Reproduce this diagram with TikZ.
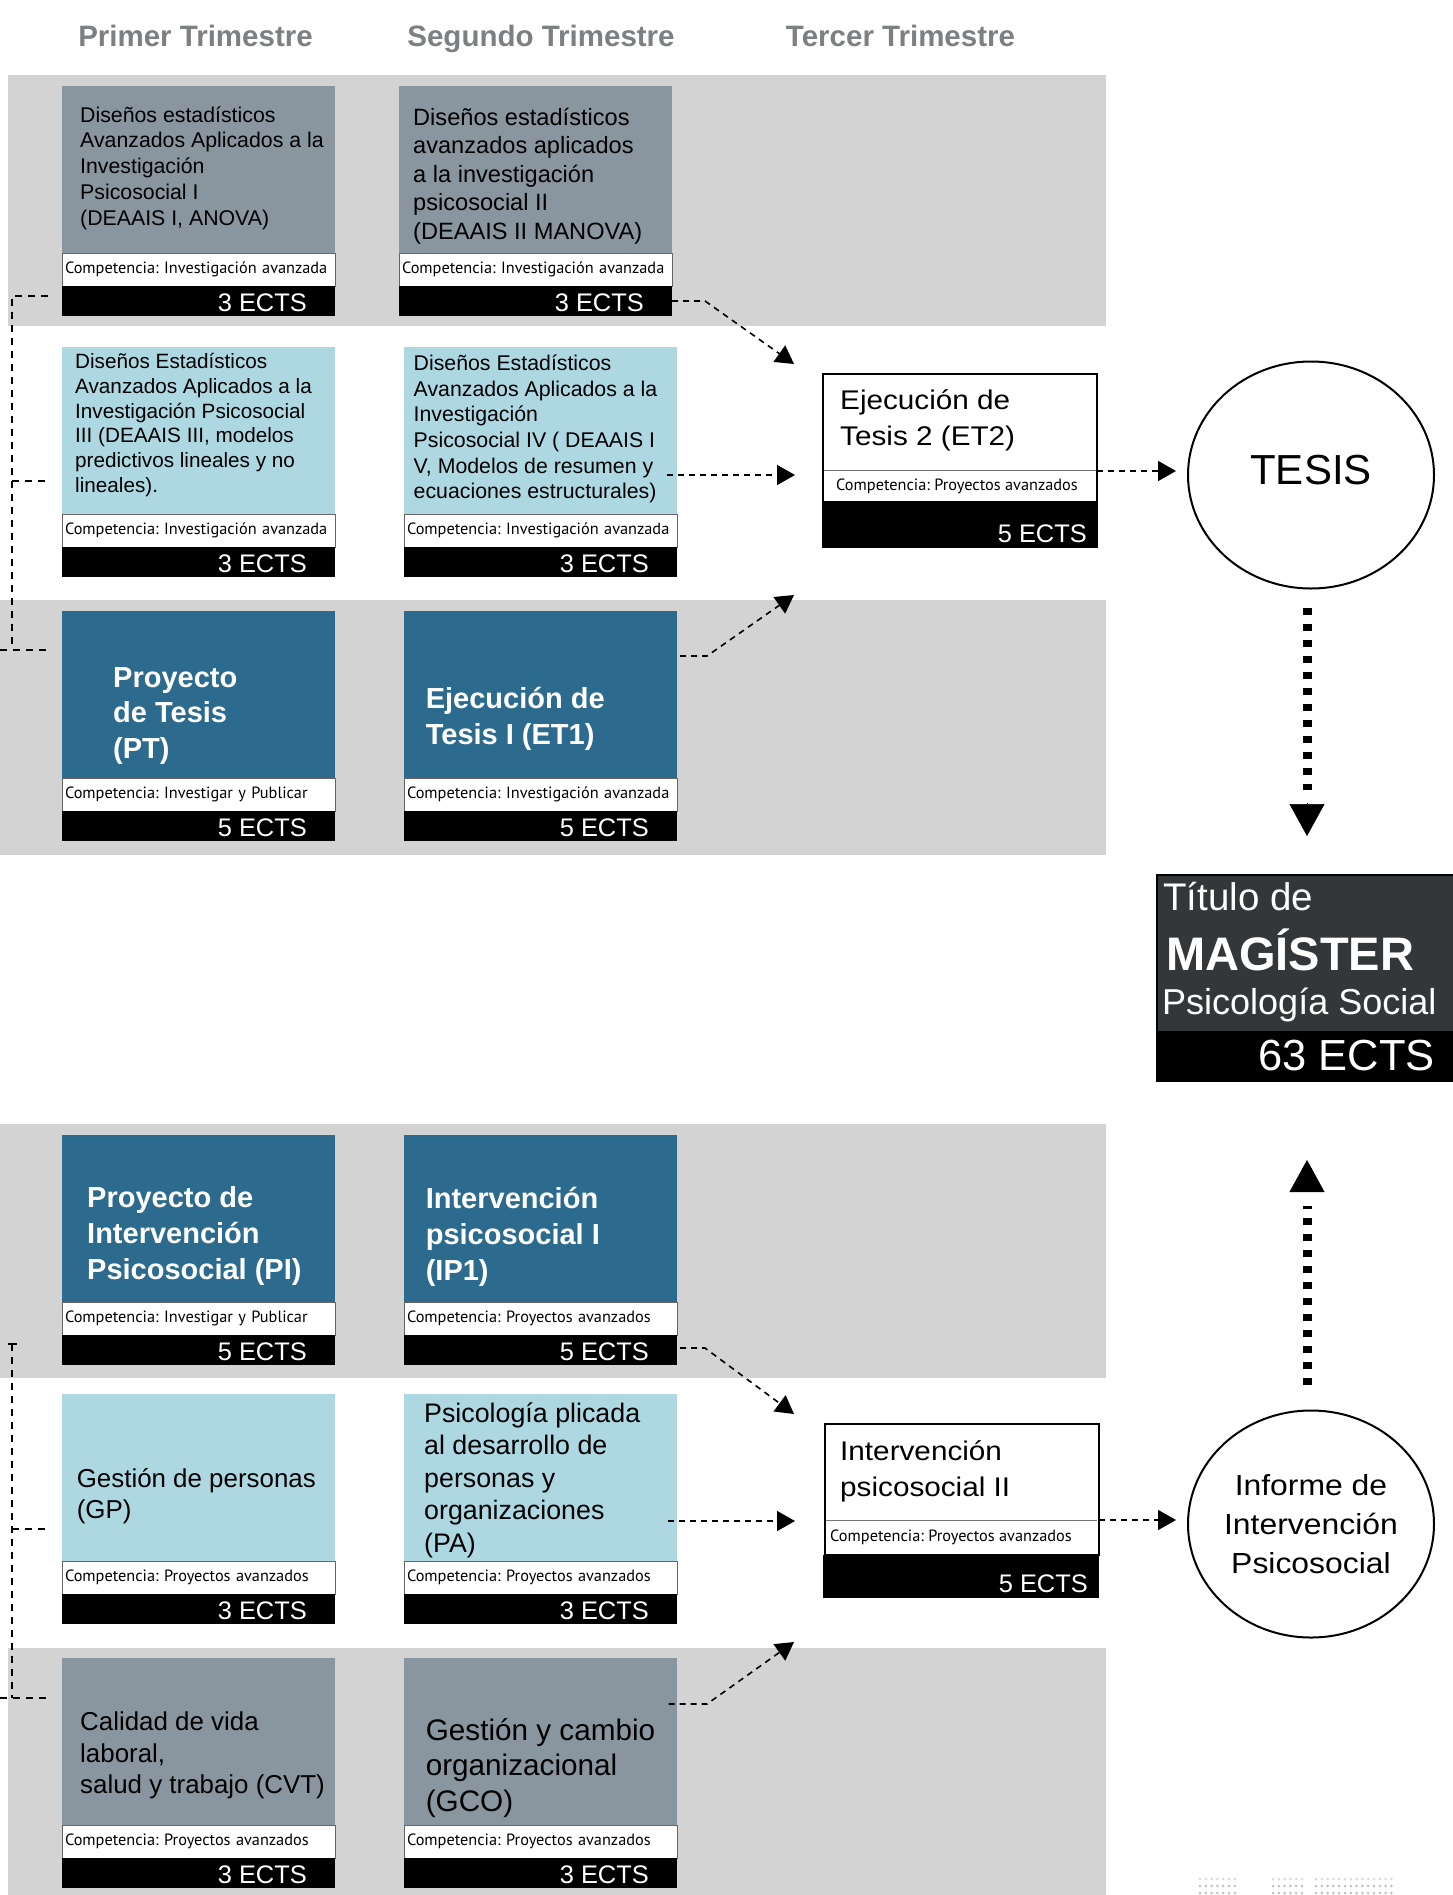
\documentclass[tikz,border=0pt]{standalone}
\usepackage{fontspec}
\setmainfont{Liberation Sans}
\newfontfamily\compfont{PT Sans}
\newfontfamily\wideB[FakeStretch=1.1]{Liberation Sans}
\usetikzlibrary{arrows.meta,shapes.geometric}
\frenchspacing

\definecolor{bandgray}{RGB}{211,211,211}
\definecolor{slate}{RGB}{137,150,160}
\definecolor{lblue}{RGB}{173,216,226}
\definecolor{dblue}{RGB}{44,107,142}
\definecolor{titdark}{RGB}{52,55,57}
\definecolor{headgray}{RGB}{125,128,131}
\definecolor{dotgray}{RGB}{195,195,195}

\newcommand\fsz[2]{\fontsize{#1}{#2}\selectfont}

\tikzset{
 basebox/.style={rectangle, inner sep=0pt, outer sep=0pt, anchor=north west},
 titlebox/.style={basebox, minimum width=273pt, minimum height=167pt},
 compbox/.style={basebox, minimum width=273pt, minimum height=33pt, text width=267pt, inner xsep=3pt, align=left, fill=white, draw=black!60, line width=0.8pt, font=\compfont\frenchspacing\fsz{16.3}{19}},
 ectsbox/.style={basebox, minimum width=273pt, minimum height=30pt, fill=black},
 ectslbl/.style={anchor=base east, inner sep=0pt, text=white, font=\fsz{25.4}{30}},
 boxtext/.style={anchor=west, inner sep=0pt, align=left},
 whitebold/.style={boxtext, text=white, font=\bfseries\fsz{29}{35.8}},
 headlbl/.style={anchor=base, inner sep=0pt, text=headgray, font=\bfseries\fsz{29.5}{34}},
 conn/.style={line width=1.6pt, dash pattern=on 6pt off 5pt},
 conntip/.style={conn, -{Triangle[length=18pt,width=20pt]}},
 sideconn/.style={line width=1.4pt, dash pattern=on 7pt off 6pt},
 bigdots/.style={line width=9pt, dash pattern=on 7pt off 9pt},
 bighead/.style={line width=0.5pt, -{Triangle[length=32pt,width=35pt]}},
 circ/.style={ellipse, draw=black, line width=2pt, minimum width=246pt, minimum height=227pt, inner sep=0pt, fill=white},
 bigbox/.style={basebox, minimum width=274pt, fill=white, draw=black, line width=2.5pt},
 blackstrip/.style={basebox, minimum width=276pt, fill=black},
 tittext/.style={anchor=base west, inner sep=0pt, text=white},
}

\newcommand\mkcourse[5]{%
 \node[titlebox, fill=#4] (t#1) at (#2,#3) {};
 \node[compbox] (c#1) at (t#1.south west) {\mbox{Competencia: #5}};
 \node[ectsbox] (e#1) at (c#1.south west) {};
}

\begin{document}
\begin{tikzpicture}[x=1pt,y=-1pt]
\useasboundingbox[fill=white] (0,0) rectangle (1453,1895);

% bands
\fill[bandgray] (8,75) rectangle (1106,326);
\fill[bandgray] (0,600) rectangle (1106,855);
\fill[bandgray] (0,1124) rectangle (1106,1378);
\fill[bandgray] (8,1648) rectangle (1106,1895);

% headers
\node[headlbl] (h1) at (195.5,46.5) {Primer Trimestre};
\node[headlbl] (h2) at (541,46.5) {Segundo Trimestre};
\node[headlbl] (h3) at (900.5,46.5) {Tercer Trimestre};

% courses
\mkcourse{11}{62}{86}{slate}{Investigación avanzada}
\mkcourse{12}{399}{86}{slate}{Investigación avanzada}
\mkcourse{21}{62}{347}{lblue}{Investigación avanzada}
\mkcourse{22}{404}{347}{lblue}{Investigación avanzada}
\mkcourse{31}{62}{611}{dblue}{Investigar y Publicar}
\mkcourse{32}{404}{611}{dblue}{Investigación avanzada}
\mkcourse{41}{62}{1135}{dblue}{Investigar y Publicar}
\mkcourse{42}{404}{1135}{dblue}{Proyectos avanzados}
\mkcourse{51}{62}{1394}{lblue}{Proyectos avanzados}
\mkcourse{52}{404}{1394}{lblue}{Proyectos avanzados}
\mkcourse{61}{62}{1658}{slate}{Proyectos avanzados}
\mkcourse{62}{404}{1658}{slate}{Proyectos avanzados}

% course texts
\node[boxtext, font=\fsz{21.3}{25.8}] (x11) at (80,168) {Diseños estadísticos\\Avanzados Aplicados a la\\Investigación\\Psicosocial I\\(DEAAIS I, ANOVA)};
\node[boxtext, font=\fsz{23.6}{28.6}] (x12) at (413,176) {Diseños estadísticos\\avanzados aplicados\\a la investigación\\psicosocial II\\(DEAAIS II MANOVA)};
\node[boxtext, font=\fsz{20.7}{24.7}] (x21) at (75,425) {Diseños Estadísticos\\Avanzados Aplicados a la\\Investigación Psicosocial\\III (DEAAIS III, modelos\\predictivos lineales y no\\lineales).};
\node[boxtext, font=\fsz{21.3}{25.7}] (x22) at (413.5,429) {Diseños Estadísticos\\Avanzados Aplicados a la\\Investigación\\Psicosocial IV ( DEAAIS I\\V, Modelos de resumen y\\ecuaciones estructurales)};
\node[whitebold] (x31) at (113,716) {Proyecto\\de Tesis\\(PT)};
\node[whitebold] (x32) at (425.6,719) {Ejecución de\\Tesis I (ET1)};
\node[whitebold] (x41) at (87,1236) {Proyecto de\\Intervención\\Psicosocial (PI)};
\node[whitebold] (x42) at (425.6,1237) {Intervención\\psicosocial I\\(IP1)};
\node[boxtext, font=\fsz{25.9}{31.5}] (x51) at (76.6,1496) {Gestión de personas\\(GP)};
\node[boxtext, font=\fsz{26.8}{32.5}] (x52) at (424,1480) {Psicología plicada\\al desarrollo de\\personas y\\organizaciones\\(PA)};
\node[boxtext, font=\fsz{25.9}{31.5}] (x61) at (80,1755.5) {Calidad de vida\\laboral,\\salud y trabajo (CVT)};
\node[boxtext, font=\fsz{29.7}{35.7}] (x62) at (425.6,1768) {Gestión y cambio\\organizacional\\(GCO)};

% ECTS labels
\node[ectslbl] (n11) at ([xshift=-28pt,yshift=5pt]e11.south east) {3 ECTS};
\node[ectslbl] (n12) at ([xshift=-28pt,yshift=5pt]e12.south east) {3 ECTS};
\node[ectslbl] (n21) at ([xshift=-28pt,yshift=5pt]e21.south east) {3 ECTS};
\node[ectslbl] (n22) at ([xshift=-28pt,yshift=5pt]e22.south east) {3 ECTS};
\node[ectslbl] (n31) at ([xshift=-28pt,yshift=5pt]e31.south east) {5 ECTS};
\node[ectslbl] (n32) at ([xshift=-28pt,yshift=5pt]e32.south east) {5 ECTS};
\node[ectslbl] (n41) at ([xshift=-28pt,yshift=5pt]e41.south east) {5 ECTS};
\node[ectslbl] (n42) at ([xshift=-28pt,yshift=5pt]e42.south east) {5 ECTS};
\node[ectslbl] (n51) at ([xshift=-28pt,yshift=5pt]e51.south east) {3 ECTS};
\node[ectslbl] (n52) at ([xshift=-28pt,yshift=5pt]e52.south east) {3 ECTS};
\node[ectslbl] (n61) at ([xshift=-28pt,yshift=5pt]e61.south east) {3 ECTS};
\node[ectslbl] (n62) at ([xshift=-28pt,yshift=5pt]e62.south east) {3 ECTS};

% ET2 box
\node[bigbox, minimum height=128pt] (et2) at (823,374) {};
\node[blackstrip, minimum height=46pt] (et2e) at (822,502) {};
\draw[black!55, line width=1pt] (824,470) -- (1096,470);
\node[boxtext, font=\wideB\fsz{27}{36}] (et2t) at (840,420) {Ejecución de\\Tesis 2 (ET2)};
\node[boxtext, font=\compfont\fsz{16.3}{19}] (et2c) at (836,486) {Competencia: Proyectos avanzados};
\node[ectslbl] (et2n) at ([xshift=-11pt,yshift=6pt]et2e.south east) {5 ECTS};

% IP2 box
\node[bigbox, minimum height=131pt] (ip2) at (825,1424) {};
\node[blackstrip, minimum height=43pt] (ip2e) at (823,1555) {};
\draw[black!55, line width=1pt] (826,1520) -- (1097,1520);
\node[boxtext, font=\wideB\fsz{27}{36}] (ip2t) at (840,1471.5) {Intervención\\psicosocial II};
\node[boxtext, font=\compfont\fsz{16.3}{19}] (ip2c) at (830,1537) {Competencia: Proyectos avanzados};
\node[ectslbl] (ip2n) at ([xshift=-11pt,yshift=6pt]ip2e.south east) {5 ECTS};

% circles
\node[circ] (tesis) at (1311,475) {};
\node[inner sep=0pt, font=\fsz{42}{48}] (tesislbl) at (1311,470) {TESIS};
\node[circ, align=center, font=\wideB\fsz{29}{39}] (inf) at (1311,1524) {Informe de\\Intervención\\Psicosocial};

% Titulo box
\node[basebox, minimum width=310pt, minimum height=157pt, fill=titdark, draw=black, line width=2.5pt] (tit) at (1157,875) {};
\node[basebox, minimum width=310pt, minimum height=50pt, fill=black] (tite) at (1156,1032) {};
\node[tittext, font=\fsz{38.5}{44}] (tt1) at (1163,910) {Título de};
\node[tittext, font=\bfseries\fsz{47}{52}] (tt2) at (1166,970) {MAGÍSTER};
\node[tittext, font=\fsz{36}{40}] (tt3) at (1162,1014) {Psicología Social};
\node[tittext, anchor=base east, font=\fsz{43.5}{48}] (tt4) at (1435,1070) {63 ECTS};

% connectors, upper part
\coordinate (a1tip) at (794,364);
\coordinate (a2tip) at (795,475);
\coordinate (a3tip) at (794,595);
\coordinate (a4tip) at (1176,471);
\draw[conntip] (e12.east) -- ++(33,0) -- (a1tip);
\draw[conntip] ([shift={(-10pt,39pt)}]t22.south east) -- (a2tip);
\draw[conntip] ([shift={(3pt,38.5pt)}]t32.east) -- ++(27,0) -- (a3tip);
\draw[conntip] ([yshift=-33pt]et2.east) -- (a4tip);
\coordinate (d1end) at (1307,790);
\coordinate (d1head) at (1307,803);
\coordinate (d1tip) at (1307,836);
\draw[bigdots] ([shift={(-4pt,-18pt)}]tesis.south) -- (d1end);
\draw[bighead] (d1head) -- (d1tip);

% connectors, lower part
\coordinate (b1tip) at (794,1414);
\coordinate (b2tip) at (795,1521);
\coordinate (b3tip) at (794,1642);
\coordinate (b4tip) at (1176,1520);
\draw[conntip] ([shift={(3pt,2pt)}]e42.east) -- ++(25,0) -- (b1tip);
\draw[conntip] ([shift={(-9pt,-43.5pt)}]t52.east) -- (b2tip);
\draw[conntip] ([shift={(-8.5pt,37.5pt)}]t62.east) -- ++(38.5,0) -- (b3tip);
\draw[conntip] ([yshift=-30.5pt]ip2.east) -- (b4tip);
\coordinate (d2end) at (1307,1206);
\coordinate (d2head) at (1307,1190);
\coordinate (d2tip) at (1307,1160);
\draw[bigdots] ([shift={(-4pt,25pt)}]inf.north) -- (d2end);
\draw[bighead] (d2head) -- (d2tip);

% left side connectors
\coordinate (l1) at (48,296);
\coordinate (l2) at (48,481);
\coordinate (l3) at (48,650);
\coordinate (l3s) at (0,650);
\draw[sideconn] (l1) -- (12,296) -- (12,650);
\draw[sideconn] (12,481) -- (l2);
\draw[sideconn] (l3s) -- (l3);
\coordinate (m1) at (12,1344);
\coordinate (m2) at (48,1529);
\coordinate (m3) at (48,1698);
\coordinate (m3s) at (0,1698);
\draw[line width=1.4pt] (8,1344) -- (17,1344);
\draw[sideconn] (m1) -- (12,1698);
\draw[sideconn] (12,1529) -- (m2);
\draw[sideconn] (m3s) -- (m3);

% faint dotted mark, bottom right
\foreach \yy/\cc in {1879/dotgray!60, 1886/dotgray, 1893/dotgray}{
  \foreach \i in {0,...,6} {\fill[\cc] (1200+\i*5.8,\yy) circle (1.5pt);}
  \foreach \i in {0,...,5} {\fill[\cc] (1273+\i*5.8,\yy) circle (1.5pt);}
  \foreach \i in {0,...,13} {\fill[\cc] (1316+\i*5.8,\yy) circle (1.5pt);}
}
\end{tikzpicture}
\end{document}
